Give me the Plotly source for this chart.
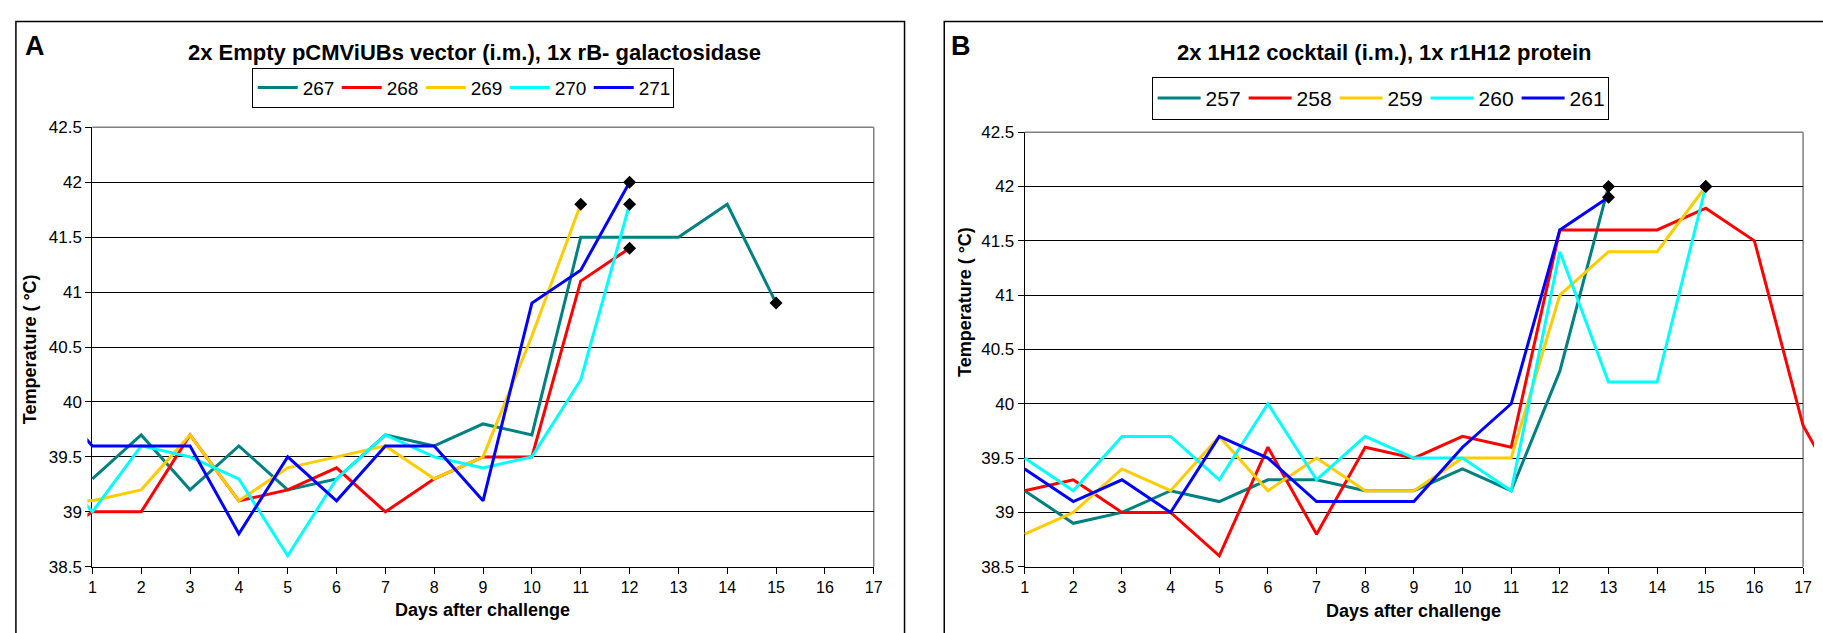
import plotly.graph_objects as go

W, H = 1823, 633

# ---------------- data ----------------
days_a = list(range(0, 16))
a_names = ["267", "268", "269", "270", "271"]
a267 = [None, 39.3, 39.7, 39.2, 39.6, 39.2, 39.3, 39.7, 39.6, 39.8, 39.7, 41.5, 41.5, 41.5, 41.8, 40.9]
a268 = [38.7, 39.0, 39.0, 39.7, 39.1, 39.2, 39.4, 39.0, 39.3, 39.5, 39.5, 41.1, 41.4]
a269 = [39.1, 39.1, 39.2, 39.7, 39.1, 39.4, 39.5, 39.6, 39.3, 39.5, 40.6, 41.8]
a270 = [39.5, 39.0, 39.6, 39.5, 39.3, 38.6, 39.3, 39.7, 39.5, 39.4, 39.5, 40.2, 41.8]
a271 = [40.1, 39.6, 39.6, 39.6, 38.8, 39.5, 39.1, 39.6, 39.6, 39.1, 40.9, 41.2, 42.0]
a_series = [a267, a268, a269, a270, a271]
a_end_marked = ["267", "268", "269", "270", "271"]

days_b = list(range(0, 19))
b_names = ["257", "258", "259", "260", "261"]
b257 = [None, 39.2, 38.9, 39.0, 39.2, 39.1, 39.3, 39.3, 39.2, 39.2, 39.4, 39.2, 40.3, 42.0]
b258 = [None, 39.2, 39.3, 39.0, 39.0, 38.6, 39.6, 38.8, 39.6, 39.5, 39.7, 39.6, 41.6, 41.6, 41.6, 41.8, 41.5, 39.8, 39.0]
b259 = [None, 38.8, 39.0, 39.4, 39.2, 39.7, 39.2, 39.5, 39.2, 39.2, 39.5, 39.5, 41.0, 41.4, 41.4, 42.0]
b260 = [None, 39.5, 39.2, 39.7, 39.7, 39.3, 40.0, 39.3, 39.7, 39.5, 39.5, 39.2, 41.4, 40.2, 40.2, 42.0]
b261 = [None, 39.4, 39.1, 39.3, 39.0, 39.7, 39.5, 39.1, 39.1, 39.1, 39.6, 40.0, 41.6, 41.9]
b_series = [b257, b258, b259, b260, b261]
b_end_marked = ["257", "259", "260", "261"]

colors = ["#008080", "#FF0000", "#FFCC00", "#00FFFF", "#0000FF"]

titles = ["2x Empty pCMViUBs vector (i.m.), 1x rB- galactosidase",
          "2x 1H12 cocktail (i.m.), 1x r1H12 protein"]
x_title = "Days after challenge"
y_title = "Temperature ( °C)"
y_ticks = [38.5, 39, 39.5, 40, 40.5, 41, 41.5, 42, 42.5]
x_ticks = list(range(1, 18))

FONT = "Arial, Liberation Sans, sans-serif"


def fx(p):
    return p / W


def fy(p):
    return 1 - p / H


# pixel frames of the two plot areas: left, right, top, bottom
frame_a = dict(l=89, r=876, t=122, b=575)
frame_b = dict(l=1028, r=1812, t=127, b=575)
# lines run slightly past the frame edges
data_left_a, data_right_a = 84, 876
data_left_b, data_right_b = 1024, 1823

fig = go.Figure()


def add_panel(days, names, series, end_marked, xa, ya, legend_id):
    for name, vals, col in zip(names, series, colors):
        fig.add_trace(go.Scatter(
            x=days[:len(vals)], y=vals, name=name, mode="lines",
            line=dict(color=col, width=3), xaxis=xa, yaxis=ya,
            legend=legend_id, connectgaps=False, hoverinfo="skip"))
    ex, ey = [], []
    for name, vals in zip(names, series):
        if name in end_marked:
            ex.append(days[len(vals) - 1])
            ey.append(vals[-1])
    fig.add_trace(go.Scatter(
        x=ex, y=ey, mode="markers", showlegend=False, xaxis=xa, yaxis=ya,
        marker=dict(symbol="diamond", color="black", size=10),
        hoverinfo="skip", cliponaxis=False))


add_panel(days_a, a_names, a_series, a_end_marked, "x3", "y3", "legend")
add_panel(days_b, b_names, b_series, b_end_marked, "x4", "y4", "legend2")


def show_axes(frame):
    xa = dict(domain=[fx(frame["l"]), fx(frame["r"])], range=[1, 17],
              tickmode="array", tickvals=x_ticks, ticks="outside", ticklen=6,
              tickcolor="black", showline=True, linecolor="black", linewidth=1,
              showgrid=False, zeroline=False,
              tickfont=dict(family=FONT, size=16, color="black"))
    ya = dict(domain=[fy(frame["b"]), fy(frame["t"])], range=[38.5, 42.5],
              tickmode="array", tickvals=y_ticks,
              ticktext=[("%g" % v) for v in y_ticks],
              ticks="outside", ticklen=6, tickcolor="black", showline=True,
              linecolor="black", linewidth=1, showgrid=True, gridcolor="black",
              gridwidth=1, zeroline=False,
              tickfont=dict(family=FONT, size=17, color="black"))
    return xa, ya


def data_axes(frame, left, right):
    per_day = (frame["r"] - frame["l"]) / 16.0
    lo = 1 - (frame["l"] - left) / per_day
    hi = 17 + (right - frame["r"]) / per_day
    xa = dict(domain=[fx(left), min(1.0, fx(right))], range=[lo, hi],
              visible=False, showgrid=False, zeroline=False)
    ya = dict(domain=[fy(frame["b"]), fy(frame["t"])], range=[38.5, 42.5],
              visible=False, showgrid=False, zeroline=False)
    return xa, ya


xa1, ya1 = show_axes(frame_a)
xa2, ya2 = show_axes(frame_b)
xa3, ya3 = data_axes(frame_a, data_left_a, data_right_a)
xa4, ya4 = data_axes(frame_b, data_left_b, data_right_b)
xa1["anchor"] = "y"; ya1["anchor"] = "x"
xa2["anchor"] = "y2"; ya2["anchor"] = "x2"
xa3["anchor"] = "y3"; ya3["anchor"] = "x3"
xa4["anchor"] = "y4"; ya4["anchor"] = "x4"

# the display axes need a trace each so they render
for xa, ya in (("x", "y"), ("x2", "y2")):
    fig.add_trace(go.Scatter(x=[None], y=[None], xaxis=xa, yaxis=ya,
                             showlegend=False, hoverinfo="skip"))

shapes = []
# outer chart borders
shapes.append(dict(type="rect", xref="paper", yref="paper",
                   x0=fx(12), x1=fx(907), y0=fy(660), y1=fy(13),
                   line=dict(color="black", width=1.5), layer="below"))
shapes.append(dict(type="rect", xref="paper", yref="paper",
                   x0=fx(947), x1=fx(1900), y0=fy(660), y1=fy(13),
                   line=dict(color="black", width=1.5), layer="below"))
# grey plot-area frame on top and right
for fr in (frame_a, frame_b):
    shapes.append(dict(type="line", xref="paper", yref="paper",
                       x0=fx(fr["l"]), x1=fx(fr["r"]), y0=fy(fr["t"]), y1=fy(fr["t"]),
                       line=dict(color="#808080", width=1.5), layer="above"))
    shapes.append(dict(type="line", xref="paper", yref="paper",
                       x0=fx(fr["r"]), x1=fx(fr["r"]), y0=fy(fr["b"]), y1=fy(fr["t"]),
                       line=dict(color="#808080", width=1.5), layer="below"))

annotations = []


def ann(text, x, y, size, bold=True, angle=0):
    annotations.append(dict(
        text=("<b>%s</b>" % text) if bold else text, xref="paper", yref="paper",
        x=fx(x), y=fy(y), xanchor="center", yanchor="middle", showarrow=False,
        textangle=angle, font=dict(family=FONT, size=size, color="black")))


ann("A", 31, 38, 27)
ann("B", 964, 38, 27)
ann(titles[0], 474, 45, 22)
ann(titles[1], 1390, 45, 22)
ann(x_title, 482, 620, 18)
ann(x_title, 1420, 621, 18)
ann(y_title, 27, 351, 18, angle=-90)
ann(y_title, 968, 302, 18, angle=-90)

legend_common = dict(orientation="h", xanchor="center", yanchor="middle",
                     bgcolor="white", bordercolor="black", borderwidth=1,
                     itemclick=False, itemdoubleclick=False,
                     entrywidthmode="pixels")

fig.update_layout(
    width=W, height=H, margin=dict(l=0, r=0, t=0, b=0),
    paper_bgcolor="white", plot_bgcolor="rgba(0,0,0,0)",
    xaxis=xa1, yaxis=ya1, xaxis2=xa2, yaxis2=ya2,
    xaxis3=xa3, yaxis3=ya3, xaxis4=xa4, yaxis4=ya4,
    shapes=shapes, annotations=annotations,
    legend=dict(x=fx(462), y=fy(81), font=dict(family=FONT, size=19, color="black"),
                itemwidth=40, entrywidth=29, **legend_common),
    legend2=dict(x=fx(1386), y=fy(92), font=dict(family=FONT, size=21, color="black"),
                 itemwidth=43, entrywidth=33, **legend_common),
    showlegend=True,
)

fig.write_html("out.html")
